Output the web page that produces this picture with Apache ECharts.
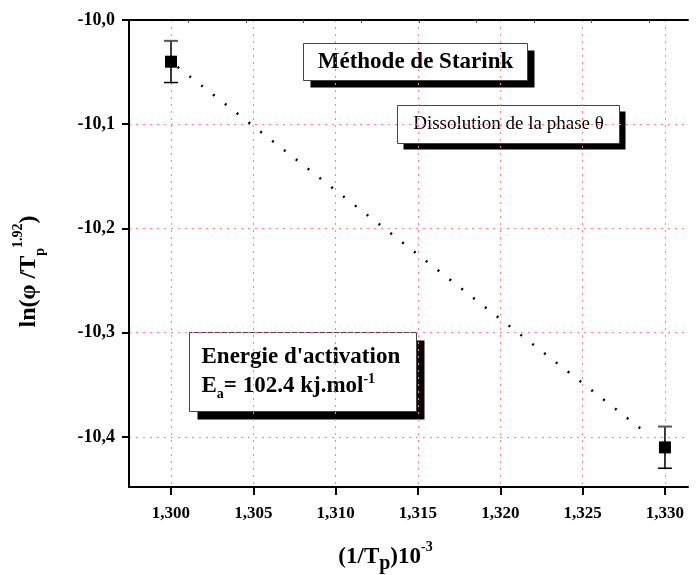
<!DOCTYPE html>
<html>
<head>
<meta charset="utf-8">
<script src="https://cdn.jsdelivr.net/npm/echarts@6/dist/echarts.min.js"></script>
<style>
  html, body { margin: 0; padding: 0; background: #fff; }
  #chart { width: 697px; height: 575px; }
</style>
</head>
<body>
<div id="chart"></div>
<script>
// points measured (1/Tp x 10^-3 , ln(phi/Tp^1.92))
const xValues = [1.300, 1.330];
const yValues = [-10.04, -10.41];
const yErrors = [0.02, 0.02];
// fitted straight line (dotted)
const fitX = [1.3004, 1.3291];
const fitY = [-10.045, -10.399];
// ticks
const xTicks = [1.300, 1.305, 1.310, 1.315, 1.320, 1.325, 1.330];
const yTicks = [-10.0, -10.1, -10.2, -10.3, -10.4];
const topTicks = [1.30107, 1.30455, 1.30805, 1.31155, 1.31505, 1.31855, 1.32205, 1.32555, 1.32905];

const serif = "'Liberation Serif', 'Times New Roman', serif";
const chart = echarts.init(document.getElementById("chart"), null, { renderer: "canvas" });

const pts = xValues.map((x, i) => [x, yValues[i]]);
const errData = xValues.map((x, i) => [x, yValues[i] - yErrors[i], yValues[i] + yErrors[i]]);
const fitData = fitX.map((x, i) => [x, fitY[i]]);

// box with black drop shadow
function shadowBox (x, y, w, h, off, text, rich, padLeft) {
  return {
    type: "group",
    left: x, top: y,
    children: [
      { type: "rect", shape: { x: off, y: off, width: w, height: h }, style: { fill: "#000" } },
      { type: "rect", shape: { x: 0, y: 0, width: w, height: h }, style: { fill: "#fff", stroke: "#444", lineWidth: 1 } },
      {
        type: "text",
        x: padLeft != null ? padLeft : w / 2,
        y: h / 2,
        style: { text: text, rich: rich, align: padLeft != null ? "left" : "center", verticalAlign: "middle" }
      }
    ]
  };
}

const gridColor = "#ff8080";

const option = {
  animation: false,
  backgroundColor: "#fff",
  grid: { left: 129, right: 9, top: 20, bottom: 88, containLabel: false, outerBoundsMode: "none" },
  xAxis: [
    {
      type: "value",
      min: 1.29745,
      max: 1.3314,
      name: "{b|(1/T}{sub|p}{b|)10}{sup|-3}",
      nameLocation: "middle",
      nameGap: 53,
      nameTextStyle: {
        padding: [0, 46, 0, 0],
        rich: {
          b: { fontFamily: serif, fontWeight: "bold", fontSize: 23, color: "#000", lineHeight: 34 },
          sub: { fontFamily: serif, fontWeight: "bold", fontSize: 20, color: "#000", verticalAlign: "bottom", lineHeight: 34, padding: [8, 0, 0, 0] },
          sup: { fontFamily: serif, fontWeight: "bold", fontSize: 14, color: "#000", verticalAlign: "top", lineHeight: 34, padding: [0, 0, 10, 0] }
        }
      },
      axisLine: { show: true, onZero: false, lineStyle: { color: "#000", width: 2 } },
      axisTick: { show: true, length: 8, inside: false, customValues: xTicks, lineStyle: { color: "#000", width: 2 } },
      axisLabel: {
        customValues: xTicks,
        margin: 18,
        fontFamily: serif, fontWeight: "bold", fontSize: 17, color: "#000",
        formatter: (v) => v.toFixed(3).replace(".", ",")
      },
      splitLine: { show: true, lineStyle: { color: gridColor, width: 1, type: [2, 5] } }
    },
    {
      type: "value",
      position: "top",
      min: 1.29745,
      max: 1.3314,
      axisLine: { show: true, onZero: false, lineStyle: { color: "#000", width: 2 } },
      axisTick: { show: true, inside: true, length: 3, customValues: topTicks, lineStyle: { color: "#555", width: 1 } },
      axisLabel: { show: false },
      splitLine: { show: false }
    }
  ],
  yAxis: {
    type: "value",
    min: -10.448,
    max: -10.0,
    name: "{b|ln(φ /T}{sub|p}{sup|1.92}{b|)}",
    nameLocation: "middle",
    nameRotate: 90,
    nameGap: 82,
    nameTextStyle: {
      padding: [0, 36, 0, 0],
      rich: {
        b: { fontFamily: serif, fontWeight: "bold", fontSize: 24, color: "#000", lineHeight: 36 },
        sub: { fontFamily: serif, fontWeight: "bold", fontSize: 14, color: "#000", verticalAlign: "bottom", lineHeight: 36, padding: [8, 0, 0, 0] },
        sup: { fontFamily: serif, fontWeight: "bold", fontSize: 14, color: "#000", verticalAlign: "top", lineHeight: 36, padding: [0, 0, 8, 0] }
      }
    },
    axisLine: { show: true, onZero: false, lineStyle: { color: "#000", width: 2 } },
    axisTick: { show: true, length: 7, customValues: yTicks, lineStyle: { color: "#000", width: 2 } },
    axisLabel: {
      customValues: yTicks,
      margin: 14,
      fontFamily: serif, fontWeight: "bold", fontSize: 18, color: "#000",
      formatter: (v) => v.toFixed(1).replace(".", ",")
    },
    splitLine: { show: true, lineStyle: { color: gridColor, width: 1, type: [2, 5] } }
  },
  series: [
    {
      type: "line",
      data: fitData,
      symbol: "none",
      lineStyle: { color: "#000", width: 2.5, type: [2, 13] },
      z: 3
    },
    {
      type: "custom",
      data: errData,
      z: 4,
      renderItem: function (params, api) {
        const top = api.coord([api.value(0), api.value(2)]);
        const bot = api.coord([api.value(0), api.value(1)]);
        const hw = 7;
        const st = { stroke: "#000", lineWidth: 1.5 };
        return {
          type: "group",
          children: [
            { type: "line", shape: { x1: top[0], y1: top[1], x2: bot[0], y2: bot[1] }, style: st },
            { type: "line", shape: { x1: top[0] - hw, y1: top[1], x2: top[0] + hw, y2: top[1] }, style: { stroke: "#555", lineWidth: 2 } },
            { type: "line", shape: { x1: bot[0] - hw, y1: bot[1], x2: bot[0] + hw, y2: bot[1] }, style: st }
          ]
        };
      }
    },
    {
      type: "scatter",
      data: pts,
      symbol: "rect",
      symbolSize: 12,
      itemStyle: { color: "#000", opacity: 1 },
      z: 5
    }
  ],
  graphic: [
    shadowBox(303, 43, 224, 37, 7, "{t|Méthode de Starink}", {
      t: { fontFamily: serif, fontWeight: "bold", fontSize: 23, color: "#000" }
    }),
    shadowBox(397, 105, 222, 38, 6, "{t|Dissolution de la phase θ}", {
      t: { fontFamily: serif, fontSize: 19, color: "#000" }
    }),
    shadowBox(189, 332, 227, 79, 8,
      "{t|Energie d'activation}\n{t|E}{sub|a}{t|= 102.4 kj.mol}{sup|-1}", {
        t: { fontFamily: serif, fontWeight: "bold", fontSize: 23, color: "#000", lineHeight: 29 },
        sub: { fontFamily: serif, fontWeight: "bold", fontSize: 14, color: "#000", lineHeight: 29, verticalAlign: "bottom", padding: [10, 0, 0, 0] },
        sup: { fontFamily: serif, fontWeight: "bold", fontSize: 14, color: "#000", lineHeight: 29, verticalAlign: "top", padding: [0, 0, 8, 0] }
      }, 12)
  ]
};

chart.setOption(option);
</script>
</body>
</html>
